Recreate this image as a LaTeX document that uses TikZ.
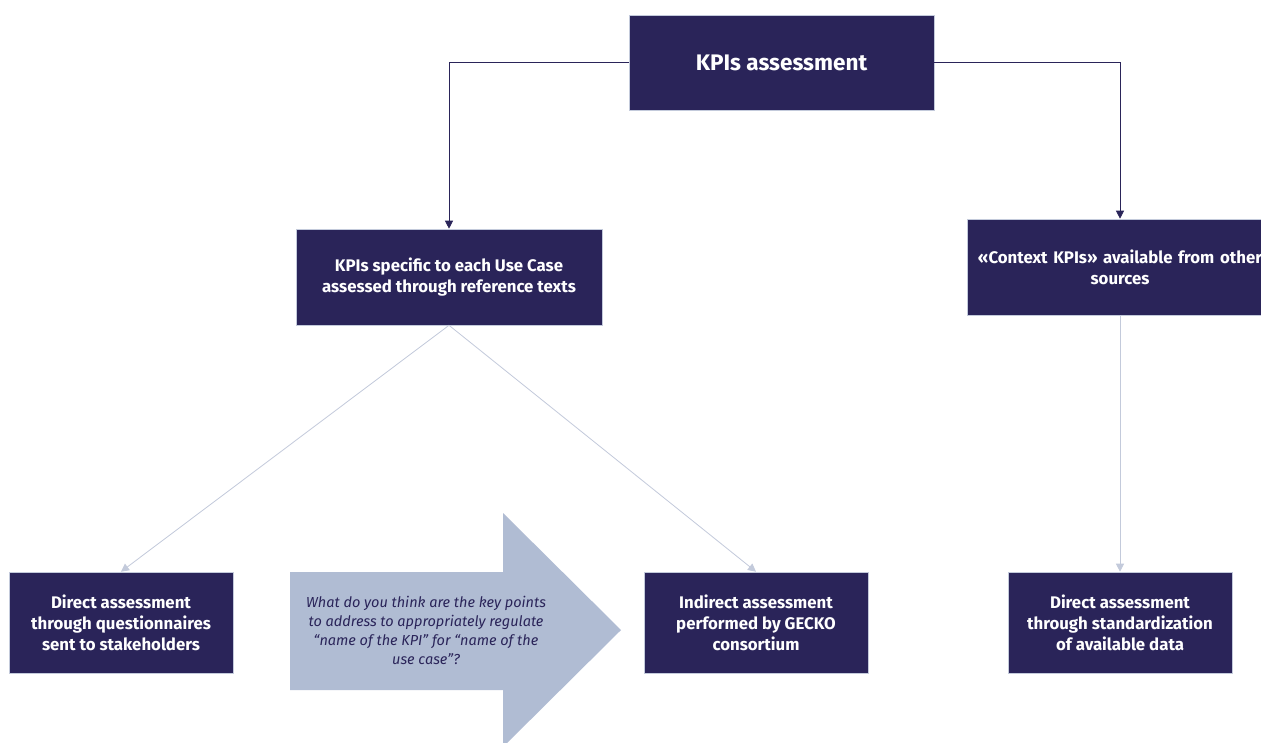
\documentclass[tikz,border=0pt]{standalone}
\usepackage{fontspec}
\setmainfont{Fira Sans}
\usetikzlibrary{arrows.meta}
\definecolor{navy}{HTML}{2A2459}
\definecolor{arrowfill}{HTML}{B0BCD3}
\definecolor{lightline}{HTML}{C3CADB}
\begin{document}
\begin{tikzpicture}[x=1pt,y=-1pt,
  box/.style={draw=lightline, line width=0.6pt, fill=navy, text=white, font=\fontsize{16.8}{21}\selectfont\bfseries, align=center, inner sep=0pt},
  darkconn/.style={draw=navy, line width=0.8pt, -{Triangle[width=8pt,length=8pt]}},
  lightconn/.style={draw=lightline, line width=0.8pt, -{Triangle[width=8pt,length=8pt]}}]
\useasboundingbox (0,0) rectangle (1261,742);
\fill[white] (0,0) rectangle (1261,742);
% shape arrow
\fill[arrowfill] (290,572) -- (503,572) -- (503,513) -- (621,630) -- (503,747) -- (503,690) -- (290,690) -- cycle;
\node[text=navy, font=\fontsize{14.5}{19}\selectfont\itshape, align=center] (q) at (426,630)
  {What do you think are the key points\\to address to appropriately regulate\\“name of the KPI” for “name of the\\use case”?};
% boxes
\node[box, minimum width=305pt, minimum height=95pt, font=\fontsize{22.5}{26}\selectfont\bfseries] (top) at (781.5,62.5) {KPIs assessment};
\node[box, minimum width=306pt, minimum height=96pt] (spec) at (449,277) {KPIs specific to each Use Case\\assessed through reference texts};
\node[box, minimum width=306pt, minimum height=96pt, text width=306pt] (ctx) at (1120,267) {«Context KPIs» available from other\\sources};
\node[box, minimum width=224pt, minimum height=101pt] (b1) at (121,622.5) {Direct assessment\\through questionnaires\\sent to stakeholders};
\node[box, minimum width=224pt, minimum height=101pt] (b2) at (756,622.5) {Indirect assessment\\performed by GECKO\\consortium};
\node[box, minimum width=224pt, minimum height=101pt] (b3) at (1120,622.5) {Direct assessment\\through standardization\\of available data};
% connectors
\draw[darkconn] (top.west) -| (spec.north);
\draw[darkconn] (top.east) -| (ctx.north);
\draw[lightconn] (spec.south) -- (b1.north);
\draw[lightconn] (spec.south) -- (b2.north);
\draw[lightconn] (ctx.south) -- (b3.north);
\end{tikzpicture}
\end{document}
